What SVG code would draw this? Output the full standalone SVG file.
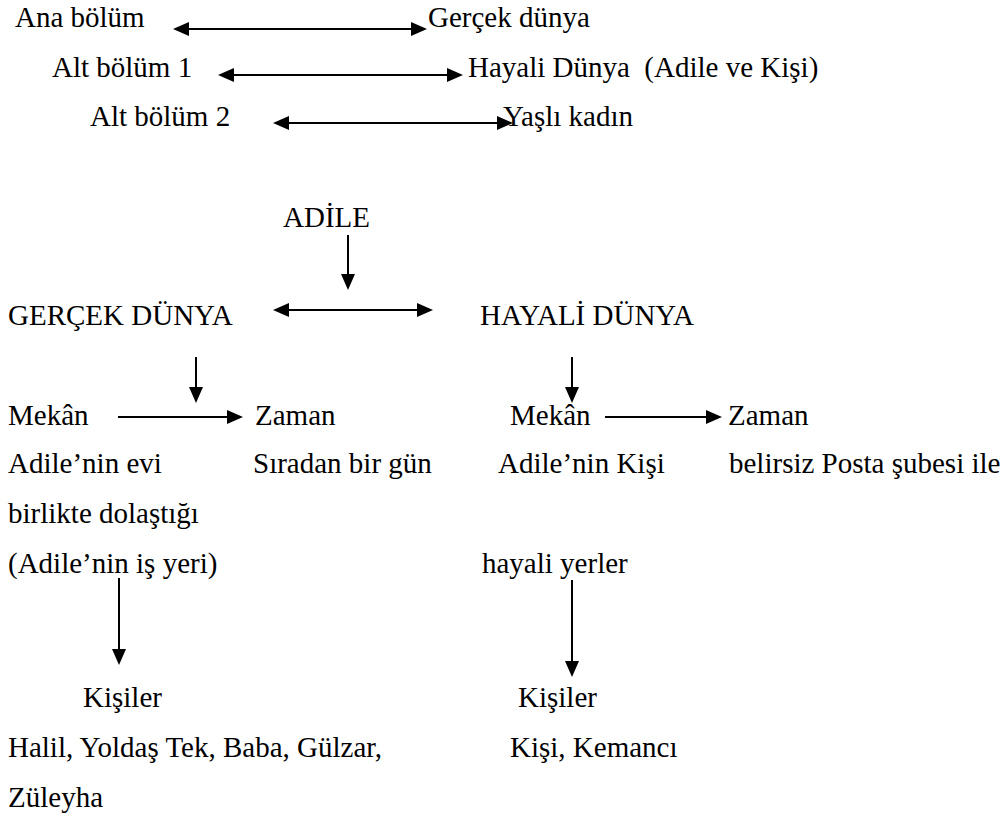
<svg xmlns="http://www.w3.org/2000/svg" width="1005" height="818" viewBox="0 0 1005 818">
  <style>
    text { font-family: 'Liberation Serif', 'Times New Roman', Tinos, 'DejaVu Serif', serif; font-size: 29px; fill: #000; }
    .conn line { stroke: #000; stroke-width: 2; fill: none; }
    .a2 { marker-start: url(#ah); marker-end: url(#ah); }
    .a1 { marker-end: url(#ah); }
  </style>
  <defs>
    <marker id="ah" viewBox="0 0 16 14" refX="0" refY="7" markerWidth="16" markerHeight="14" markerUnits="userSpaceOnUse" orient="auto-start-reverse">
      <path d="M0,0 L16,7 L0,14 z" fill="#000"/>
    </marker>
  </defs>
  <rect width="1005" height="818" fill="#fff"/>

  <g id="connectors" class="conn">
    <line class="a2" x1="189" y1="29" x2="411" y2="29"/>
    <line class="a2" x1="234" y1="75" x2="447" y2="75"/>
    <line class="a2" x1="289" y1="123" x2="497" y2="123"/>
    <line class="a1" x1="348" y1="235" x2="348" y2="274"/>
    <line class="a2" x1="289" y1="310" x2="417" y2="310"/>
    <line class="a1" x1="196" y1="357" x2="196" y2="387"/>
    <line class="a1" x1="572" y1="357" x2="572" y2="387"/>
    <line class="a1" x1="118" y1="417" x2="227" y2="417"/>
    <line class="a1" x1="605" y1="417" x2="706" y2="417"/>
    <line class="a1" x1="119" y1="578" x2="119" y2="649"/>
    <line class="a1" x1="572" y1="580" x2="572" y2="661"/>
  </g>

  <g id="ana-bolum"><text x="15" y="27" font-family="Liberation Serif, serif">Ana bölüm</text></g>
  <g id="gercek-dunya-top"><text x="428" y="27">Gerçek dünya</text></g>
  <g id="alt-bolum-1"><text x="52" y="77">Alt bölüm 1</text></g>
  <g id="hayali-dunya-top"><text x="468" y="77">Hayali Dünya&#160; (Adile ve Kişi)</text></g>
  <g id="alt-bolum-2"><text x="90" y="126">Alt bölüm 2</text></g>
  <g id="yasli-kadin"><text x="503" y="126">Yaşlı kadın</text></g>

  <g id="adile"><text x="283" y="227">ADİLE</text></g>
  <g id="gercek-dunya"><text x="8" y="325">GERÇEK DÜNYA</text></g>
  <g id="hayali-dunya"><text x="480" y="325">HAYALİ DÜNYA</text></g>

  <g id="mekan-left"><text x="8" y="425">Mekân</text></g>
  <g id="zaman-left"><text x="255" y="425">Zaman</text></g>
  <g id="mekan-right"><text x="510" y="425">Mekân</text></g>
  <g id="zaman-right"><text x="728" y="425">Zaman</text></g>

  <g id="mekan-left-detail">
    <text x="8" y="473">Adile’nin evi</text>
    <text x="8" y="523">birlikte dolaştığı</text>
    <text x="8" y="573">(Adile’nin iş yeri)</text>
  </g>
  <g id="zaman-left-detail"><text x="253" y="473">Sıradan bir gün</text></g>
  <g id="mekan-right-detail">
    <text x="498" y="473">Adile’nin Kişi</text>
    <text x="482" y="573">hayali yerler</text>
  </g>
  <g id="zaman-right-detail"><text x="729" y="473">belirsiz Posta şubesi ile</text></g>

  <g id="kisiler-left">
    <text x="83" y="707">Kişiler</text>
    <text x="8" y="757">Halil, Yoldaş Tek, Baba, Gülzar,</text>
    <text x="8" y="807">Züleyha</text>
  </g>
  <g id="kisiler-right">
    <text x="518" y="707">Kişiler</text>
    <text x="510" y="757">Kişi, Kemancı</text>
  </g>
</svg>
